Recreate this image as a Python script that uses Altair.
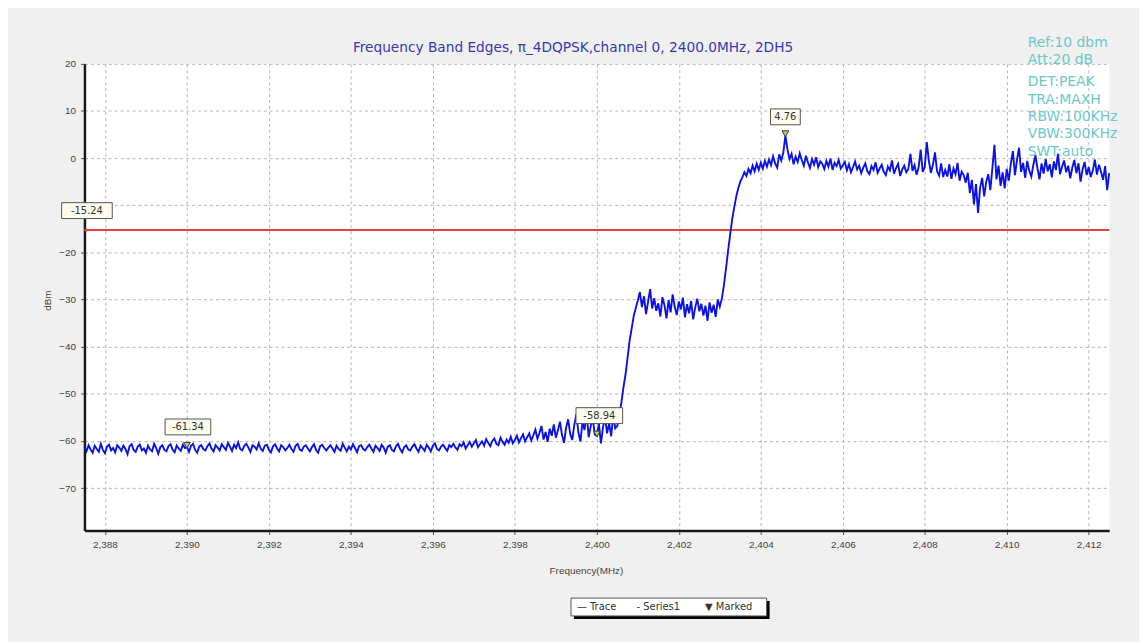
import altair as alt
import pandas as pd

# ---------------- data ----------------
F_START = 2387.5
F_STEP = 0.05

trace_rows = [
    [-61.3, -62.2, -60.9, -61.8, -62.5, -61.0, -61.7, -62.3, -60.6, -61.9],  # 2387.50
    [-62.6, -61.2, -60.8, -62.0, -61.5, -62.4, -60.9, -61.4, -62.1, -61.0],  # 2388.00
    [-61.7, -62.8, -61.1, -60.7, -61.9, -62.3, -61.2, -60.8, -62.0, -61.6],  # 2388.50
    [-62.5, -61.0, -61.8, -62.2, -60.6, -61.5, -62.7, -61.3, -60.9, -61.9],  # 2389.00
    [-62.2, -61.1, -60.7, -61.8, -62.4, -61.0, -61.6, -62.1, -60.8, -61.5],  # 2389.50
    [-61.3, -62.3, -61.0, -60.6, -61.9, -62.5, -61.2, -60.9, -61.7, -62.0],  # 2390.00
    [-61.1, -60.5, -61.6, -62.2, -60.9, -61.4, -62.0, -60.7, -61.3, -61.9],  # 2390.50
    [-60.4, -61.2, -62.1, -60.8, -61.5, -60.3, -61.7, -62.0, -61.0, -60.6],  # 2391.00
    [-61.4, -62.3, -60.9, -61.2, -61.8, -60.5, -61.6, -62.1, -61.0, -60.8],  # 2391.50
    [-61.9, -62.4, -61.1, -60.7, -61.6, -62.2, -60.9, -61.3, -62.0, -61.5],  # 2392.00
    [-60.8, -61.7, -62.3, -61.0, -60.6, -61.8, -62.1, -61.2, -60.9, -61.6],  # 2392.50
    [-62.2, -61.3, -60.7, -61.9, -62.5, -61.1, -60.8, -61.5, -62.0, -61.4],  # 2393.00
    [-60.9, -61.6, -62.3, -61.0, -61.7, -62.1, -60.6, -61.4, -62.2, -61.2],  # 2393.50
    [-61.8, -60.7, -61.5, -62.4, -61.1, -60.9, -61.7, -62.0, -61.3, -60.8],  # 2394.00
    [-61.6, -62.3, -61.0, -61.5, -62.1, -60.8, -61.4, -62.5, -61.2, -60.9],  # 2394.50
    [-61.9, -62.2, -61.1, -60.6, -61.7, -62.4, -61.3, -60.9, -61.8, -62.0],  # 2395.00
    [-61.2, -60.7, -61.6, -62.3, -61.0, -61.5, -62.1, -60.8, -61.4, -62.2],  # 2395.50
    [-61.0, -60.5, -61.7, -62.0, -61.2, -60.8, -61.5, -62.1, -60.9, -61.3],  # 2396.00
    [-60.6, -61.4, -61.9, -60.7, -61.1, -60.3, -61.6, -60.9, -60.2, -61.2],  # 2396.50
    [-60.5, -59.8, -61.3, -60.7, -60.1, -61.0, -59.6, -60.4, -61.1, -60.0],  # 2397.00
    [-59.5, -60.6, -60.9, -59.3, -60.2, -60.8, -59.7, -60.4, -59.1, -60.5],  # 2397.50
    [-59.8, -58.9, -60.3, -59.4, -58.6, -60.1, -59.2, -58.4, -59.9, -58.8],  # 2398.00
    [-57.6, -59.5, -58.3, -56.8, -59.7, -58.1, -60.2, -57.4, -58.9, -56.5],  # 2398.50
    [-59.3, -57.8, -55.9, -58.7, -60.4, -57.2, -55.4, -58.5, -59.8, -56.6],  # 2399.00
    [-54.3, -58.2, -60.1, -56.0, -57.7, -53.8, -59.2, -56.9, -55.2, -58.6],  # 2399.50
    [-58.9, -56.3, -60.5, -57.1, -55.0, -58.4, -56.2, -59.0, -54.6, -57.3],  # 2400.00
    [-56.8, -54.5, -51.8, -48.6, -45.9, -42.3, -38.7, -36.1, -33.5, -31.8],  # 2400.50
    [-30.2, -28.4, -31.6, -29.3, -33.1, -30.5, -27.8, -31.9, -29.7, -32.4],  # 2401.00
    [-30.8, -33.6, -29.5, -31.2, -34.0, -30.1, -32.7, -28.9, -31.5, -33.3],  # 2401.50
    [-30.4, -32.1, -29.6, -33.8, -31.0, -32.9, -30.3, -34.2, -31.7, -29.8],  # 2402.00
    [-32.5, -30.9, -33.4, -31.3, -34.5, -30.6, -32.8, -31.1, -33.7, -30.0],  # 2402.50
    [-31.5, -29.8, -27.0, -23.5, -19.8, -16.4, -13.1, -10.5, -8.2, -6.4],    # 2403.00
    [-5.0, -4.1, -3.0, -3.8, -2.3, -3.2, -1.6, -2.8, -1.2, -2.5],            # 2403.50
    [-1.0, -2.2, -0.6, -1.8, -0.3, -1.5, 0.4, -1.1, -2.0, 0.8],              # 2404.00
    [-0.5, 1.2, 4.76, 1.9, -0.2, 0.9, -1.3, 0.3, -0.8, 1.0],                 # 2404.50
    [-0.4, -1.6, 0.5, -0.9, -2.1, -0.2, -1.4, 0.2, -1.9, -0.7],              # 2405.00
    [-1.2, -2.3, -0.6, -1.8, -0.1, -2.5, -1.0, -1.7, -0.4, -2.2],            # 2405.50
    [-1.5, -0.8, -2.6, -1.3, -3.0, -1.9, -0.7, -2.4, -1.6, -3.2],            # 2406.00
    [-2.0, -1.1, -2.8, -3.4, -1.7, -2.5, -0.9, -3.1, -2.2, -1.4],            # 2406.50
    [-2.9, -3.6, -1.8, -2.6, -0.5, -3.3, -2.1, -1.2, -3.8, -2.4],            # 2407.00
    [-1.6, -3.0, -2.3, 0.9, -2.7, -1.5, -3.5, -2.0, 1.8, -2.9],              # 2407.50
    [-1.9, 3.4, -0.6, -3.1, -1.4, 1.2, -2.8, -3.7, -1.1, -4.0],              # 2408.00
    [-2.5, -3.9, -1.3, -4.4, -2.2, -3.4, -1.0, -4.8, -2.9, -3.6],            # 2408.50
    [-5.2, -3.1, -7.4, -4.6, -9.8, -5.5, -11.6, -6.3, -4.2, -8.1],           # 2409.00
    [-5.0, -3.4, -6.8, -2.1, 2.8, -4.5, -1.6, -5.9, -3.0, -6.4],             # 2409.50
    [-2.3, -4.8, -1.2, 1.5, -3.6, -0.4, 2.2, -2.9, -1.0, -4.2],              # 2410.00
    [-0.6, -2.7, -3.9, -1.4, 0.6, -2.2, -4.5, -1.1, -3.3, -0.2],             # 2410.50
    [-2.8, -1.3, -4.1, -0.7, -2.5, 0.9, -3.4, -1.8, -0.5, -3.0],             # 2411.00
    [-1.6, -4.3, -2.0, -0.4, -3.2, -1.1, -5.0, -2.4, -0.8, -3.6],            # 2411.50
    [-1.9, -4.0, -2.6, -0.3, -3.5, -1.4, -2.9, -4.6, -1.7, -6.8],            # 2412.00
    [-3.2],                                                                  # 2412.50
]

marker_freq = [2390.0, 2400.0, 2404.6]
marker_level = [-61.34, -58.94, 4.76]
marker_label = ["-61.34", "-58.94", "4.76"]

limit_freq = [2387.5]
limit_level = [-15.24]
limit_label = ["-15.24"]

x_ticks = [2388, 2390, 2392, 2394, 2396, 2398, 2400, 2402, 2404, 2406, 2408, 2410, 2412]
y_ticks = [-70, -60, -50, -40, -30, -20, -10, 0, 10, 20]

title_text = "Frequency Band Edges, π_4DQPSK,channel 0, 2400.0MHz, 2DH5"
info_lines = ["Ref:10 dbm", "Att:20 dB", "DET:PEAK", "TRA:MAXH", "RBW:100KHz", "VBW:300KHz", "SWT:auto"]
legend_items = ["— Trace", "- Series1", "▼ Marked"]

# ---------------- tables ----------------
levels = [v for row in trace_rows for v in row]
freqs = [round(F_START + i * F_STEP, 2) for i in range(len(levels))]
trace_df = pd.DataFrame({"freq": freqs, "level": levels})
marker_df = pd.DataFrame({"freq": marker_freq, "level": marker_level, "label": marker_label})
limit_df = pd.DataFrame({"freq": limit_freq, "level": limit_level, "label": limit_label})
one_df = pd.DataFrame({"k": [0]})

FONT = "DejaVu Sans"
xs = alt.Scale(domain=[2387.5, 2412.5], nice=False, zero=False)
ys = alt.Scale(domain=[-79, 20], nice=False, zero=False)

X = alt.X("freq:Q", scale=xs,
          axis=alt.Axis(values=x_ticks, format=",.0f", title="Frequency(MHz)",
                        titleX=505, titleY=40, titleBaseline="middle",
                        grid=True, gridDash=[3, 3], gridColor="#b4b4b4"))
# the -10 label is hidden under the limit-value box in the reference
Y = alt.Y("level:Q", scale=ys,
          axis=alt.Axis(values=y_ticks, title="dBm", titleX=-37, titleY=238,
                        titleBaseline="middle",
                        labelExpr="datum.value == -10 ? '' : datum.label",
                        grid=True, gridDash=[3, 3], gridColor="#b4b4b4"))

# legend box + shadow (below the plot), positioned in pixels
legend_shadow = alt.Chart(one_df).mark_rect(color="#000000").encode(
    x=alt.value(493), x2=alt.value(690), y=alt.value(541), y2=alt.value(559))
legend_box = alt.Chart(one_df).mark_rect(fill="#ffffff", stroke="#555555", strokeWidth=1).encode(
    x=alt.value(490), x2=alt.value(687), y=alt.value(538), y2=alt.value(556))
legend_layers = []
for item, px in zip(legend_items, [496, 556, 625]):
    legend_layers.append(
        alt.Chart(one_df).mark_text(text=item, font=FONT, fontSize=10, color="#333333",
                                    align="left", baseline="middle").encode(
            x=alt.value(px), y=alt.value(547)))

limit_rule = alt.Chart(limit_df).mark_rule(color="#e0443c", strokeWidth=2).encode(
    y=Y, x=alt.value(0), x2=alt.value(1032))

trace_line = alt.Chart(trace_df).mark_line(color="#0b12e8", strokeWidth=1.9).encode(x=X, y=Y)

limit_dot = alt.Chart(limit_df).mark_point(shape="circle", size=12, filled=True,
                                           color="#e0443c", xOffset=2).encode(x=X, y=Y)

def label_box(df, width, dx, dy, height=16):
    box = alt.Chart(df).mark_rect(fill="#fbfbee", stroke="#555555", strokeWidth=1,
                                  xOffset=dx - width / 2, x2Offset=dx + width / 2,
                                  yOffset=dy - height / 2, y2Offset=dy + height / 2).encode(
        x=X, x2="freq:Q", y=Y, y2="level:Q")
    txt = alt.Chart(df).mark_text(font=FONT, fontSize=10, color="#333333",
                                  dx=dx, dy=dy, baseline="middle").encode(
        x=X, y=Y, text="label:N")
    return [box, txt]

boxes = (label_box(marker_df.iloc[[0]], 46, 1, -20.5)
         + label_box(marker_df.iloc[[1]], 47, 2.5, -20.5)
         + label_box(marker_df.iloc[[2]], 30, 0, -19)
         + label_box(limit_df, 51, 2.5, -19.5))

markers = alt.Chart(marker_df).mark_point(shape="triangle-down", size=45, filled=True,
                                          fill="#c9c860", stroke="#333333", strokeWidth=1,
                                          opacity=1, yOffset=-2).encode(x=X, y=Y)

title_mark = alt.Chart(one_df).mark_text(text=title_text, font=FONT, fontSize=13.8,
                                         color="#3838b0", baseline="middle").encode(
    x=alt.value(492), y=alt.value(-16))

info_layers = []
for i, line in enumerate(info_lines):
    info_layers.append(
        alt.Chart(one_df).mark_text(text=line, font=FONT, fontSize=14, color="#6cc8c8",
                                    align="left", baseline="middle").encode(
            x=alt.value(950), y=alt.value([-21, -4, 18, 36, 54, 71, 89][i])))

chart = alt.layer(
    legend_shadow, legend_box, *legend_layers,
    limit_rule, trace_line, limit_dot, *boxes, markers, title_mark, *info_layers
).properties(
    width=1032, height=470,
    background="#f0f0f0",
    autosize=alt.AutoSizeParams(type="none"),
    padding={"left": 77, "top": 54, "right": 30, "bottom": 110},
).configure_view(stroke=None, fill="#ffffff").configure_axis(
    domainColor="#1a1a1a", domainWidth=2.5, tickColor="#555555", tickSize=4,
    labelColor="#444444", labelFont="Liberation Sans", labelFontSize=10,
    titleColor="#444444", titleFont="Liberation Sans", titleFontSize=10,
    titleFontWeight="normal", labelPadding=5,
)

chart.save("out.html", embed_options={"renderer": "svg", "actions": False})
